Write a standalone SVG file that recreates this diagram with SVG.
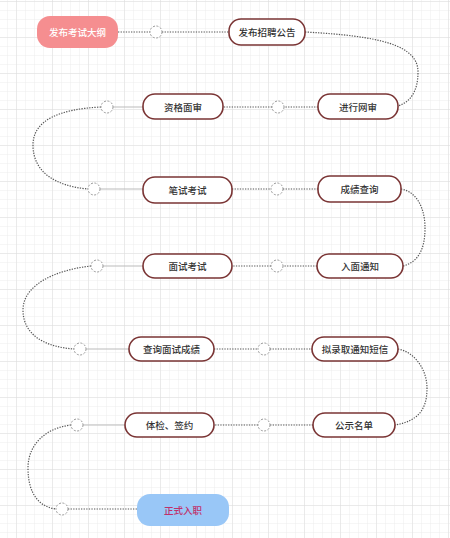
<svg xmlns="http://www.w3.org/2000/svg" width="450" height="538" viewBox="0 0 450 538">
<defs>
<pattern id="minor" width="9" height="9" patternUnits="userSpaceOnUse" x="8" y="2">
<path d="M9 0V9M0 9H9" fill="none" stroke="#ededed" stroke-width="1"/>
</pattern>
<pattern id="major" width="36" height="36" patternUnits="userSpaceOnUse" x="17" y="2">
<path d="M36 0V36M0 36H36" fill="none" stroke="#dedede" stroke-width="1"/>
</pattern>
<style>
.node rect{fill:#fff;stroke:#7a3434;stroke-width:1.6}
.node text{font-family:"Noto Sans CJK SC","Noto Sans",sans-serif;font-size:9.5px;fill:#333;text-anchor:middle;dominant-baseline:central;font-weight:500}
.dot{fill:none;stroke:#555;stroke-width:1.2;stroke-dasharray:1.3 1.3}
.thin{fill:none;stroke:#bbb;stroke-width:1}
.hub{fill:#fff;stroke:#999;stroke-width:1;stroke-dasharray:2 1.5}
</style>
</defs>
<rect width="450" height="538" fill="#fff"/>
<rect width="450" height="538" fill="url(#minor)"/>
<rect width="450" height="538" fill="url(#major)"/>
<g id="connectors">
<path class="dot" d="M118,32H150M162,32H229"/>
<path class="dot" d="M305,32 C380,36 418,45 418,72 C418,92 410,102 398,106"/>
<path class="dot" d="M318,107H284M272,107H223"/>
<path class="thin" d="M143,107H113"/>
<path class="dot" d="M101,107 C60,109 33,120 33,145 C33,172 55,186 88,189"/>
<path class="thin" d="M100,189H143"/>
<path class="dot" d="M232,189H271M283,189H318"/>
<path class="dot" d="M401,189 C418,192 425,210 425,228 C425,250 418,262 403,266"/>
<path class="dot" d="M317,266H283M271,266H232"/>
<path class="thin" d="M143,266H103"/>
<path class="dot" d="M91,266 C55,270 23,285 23,310 C23,335 45,347 74,349"/>
<path class="thin" d="M86,349H129"/>
<path class="dot" d="M214,349H258M270,349H312"/>
<path class="dot" d="M398,349 C415,352 427,370 427,388 C427,410 418,421 395,425"/>
<path class="dot" d="M313,425H270M258,425H214"/>
<path class="thin" d="M125,425H83"/>
<path class="dot" d="M71,425 C45,428 28,445 28,468 C28,495 40,507 56,509"/>
<path class="dot" d="M68,509H137"/>
</g>
<g id="hubs">
<circle class="hub" cx="156" cy="32" r="6"/>
<circle class="hub" cx="278" cy="107" r="6"/>
<circle class="hub" cx="107" cy="107" r="6"/>
<circle class="hub" cx="94" cy="189" r="6"/>
<circle class="hub" cx="277" cy="189" r="6"/>
<circle class="hub" cx="277" cy="266" r="6"/>
<circle class="hub" cx="97" cy="266" r="6"/>
<circle class="hub" cx="80" cy="349" r="6"/>
<circle class="hub" cx="264" cy="349" r="6"/>
<circle class="hub" cx="264" cy="425" r="6"/>
<circle class="hub" cx="77" cy="425" r="6"/>
<circle class="hub" cx="62" cy="509" r="6"/>
</g>
<g id="n1" class="node"><rect x="37" y="16" width="81" height="32" rx="13" style="fill:#f58e90;stroke:none"/><text x="77.5" y="32" style="fill:#fff">发布考试大纲</text></g>
<g id="n2" class="node"><rect x="229" y="19" width="76" height="26" rx="12"/><text x="267" y="32">发布招聘公告</text></g>
<g id="n3" class="node"><rect x="318" y="94" width="80" height="25" rx="12"/><text x="358" y="106.5">进行网审</text></g>
<g id="n4" class="node"><rect x="143" y="94" width="80" height="25" rx="12"/><text x="183" y="106.5">资格面审</text></g>
<g id="n5" class="node"><rect x="143" y="177" width="89" height="26" rx="12"/><text x="187.5" y="190">笔试考试</text></g>
<g id="n6" class="node"><rect x="318" y="176" width="83" height="26" rx="12"/><text x="359.5" y="189">成绩查询</text></g>
<g id="n7" class="node"><rect x="317" y="254" width="86" height="24" rx="12"/><text x="360" y="266">入面通知</text></g>
<g id="n8" class="node"><rect x="143" y="254" width="89" height="24" rx="12"/><text x="187.5" y="266">面试考试</text></g>
<g id="n9" class="node"><rect x="129" y="337" width="85" height="24" rx="12"/><text x="171.5" y="349">查询面试成绩</text></g>
<g id="n10" class="node"><rect x="312" y="337" width="86" height="24" rx="12"/><text x="355" y="349">拟录取通知短信</text></g>
<g id="n11" class="node"><rect x="313" y="413" width="82" height="24" rx="12"/><text x="354" y="425">公示名单</text></g>
<g id="n12" class="node"><rect x="125" y="413" width="89" height="24" rx="12"/><text x="169.5" y="425">体检、签约</text></g>
<g id="n13" class="node"><rect x="137" y="494" width="92" height="32" rx="13" style="fill:#99c7f7;stroke:none"/><text x="183" y="510" style="fill:#c0306a">正式入职</text></g>
</svg>
